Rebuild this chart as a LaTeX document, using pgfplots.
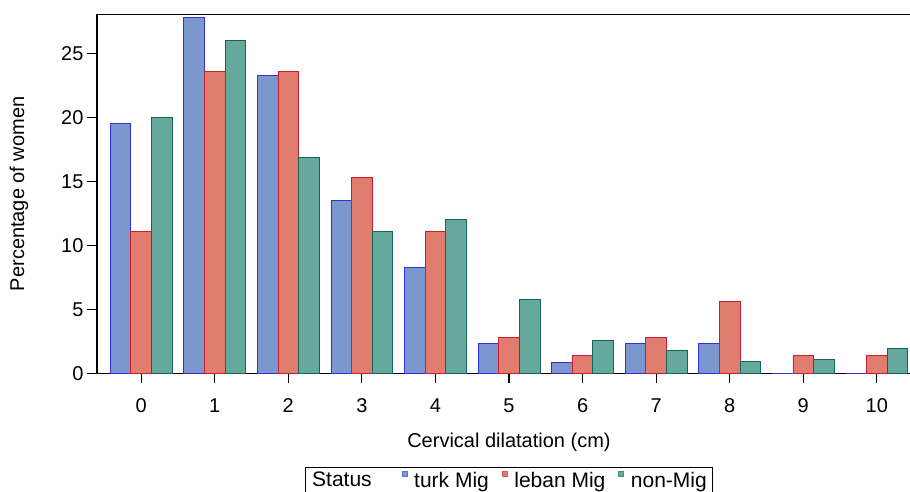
\documentclass[border=0pt]{standalone}
\usepackage{fontspec}
\setmainfont{Liberation Sans}
\usepackage{pgfplots}
\pgfplotsset{compat=1.18}
\definecolor{turkF}{RGB}{123,151,206}
\definecolor{turkE}{RGB}{50,50,220}
\definecolor{lebF}{RGB}{224,125,110}
\definecolor{lebE}{RGB}{200,30,50}
\definecolor{nonF}{RGB}{100,168,158}
\definecolor{nonE}{RGB}{20,100,90}
\begin{document}
\begin{tikzpicture}[font=\fontsize{20}{24}\selectfont]
\begin{axis}[
  at={(0pt,0pt)}, anchor=south west,
  scale only axis, width=824pt, height=359pt,
  xmin=-0.6, xmax=10.6, ymin=0, ymax=28.05,
  axis x line*=bottom, axis y line*=left,
  axis line style={line width=1.4pt, black},
  xtick={0,1,2,3,4,5,6,7,8,9,10}, ytick={0,5,10,15,20,25},
  tick align=outside, major tick length=10pt,
  every tick/.style={black, line width=1.2pt},
  /pgf/number format/assume math mode=true,
  xticklabel style={yshift=-12pt},
  xlabel={Cervical dilatation (cm)},
  ylabel={Percentage of women},
  xlabel style={at={(axis description cs:0.5,0)}, anchor=center, yshift=-69pt},
  ylabel style={at={(axis description cs:-0.0947,0.5)}, anchor=center},
  legend columns=4,
  legend style={at={(axis description cs:0.5,0)}, anchor=north, yshift=-94pt,
    draw=black, line width=1pt, inner xsep=6pt, inner ysep=2pt,
    nodes={inner sep=0pt, inner ysep=2pt},
    /tikz/every odd column/.append style={column sep=7pt},
    /tikz/every even column/.append style={column sep=13pt},
    font=\fontsize{21}{24}\selectfont},
]
\addplot[ybar, bar width=0.28, bar shift=-0.28, fill=turkF, draw=turkE, line width=0.8pt, forget plot]
 coordinates {(0,19.5)(1,27.8)(2,23.3)(3,13.5)(4,8.3)(5,2.3)(6,0.85)(7,2.3)(8,2.3)(9,0)(10,0)};
\addplot[ybar, bar width=0.28, bar shift=0, fill=lebF, draw=lebE, line width=0.8pt, forget plot]
 coordinates {(0,11.1)(1,23.6)(2,23.6)(3,15.3)(4,11.1)(5,2.8)(6,1.4)(7,2.8)(8,5.6)(9,1.4)(10,1.4)};
\addplot[ybar, bar width=0.28, bar shift=0.28, fill=nonF, draw=nonE, line width=0.8pt, forget plot]
 coordinates {(0,20.0)(1,26.0)(2,16.9)(3,11.1)(4,12.0)(5,5.8)(6,2.6)(7,1.8)(8,0.9)(9,1.1)(10,1.95)};
\addlegendimage{empty legend}
\addlegendentry{\hspace*{-6pt}Status\hspace*{17pt}}
\addlegendimage{legend image code/.code={\draw[fill=turkF, draw=turkE!40!turkF, line width=0.5pt] (0pt,4pt) rectangle (5pt,9pt);}}
\addlegendentry{turk Mig}
\addlegendimage{legend image code/.code={\draw[fill=lebF, draw=lebE!40!lebF, line width=0.5pt] (0pt,4pt) rectangle (5pt,9pt);}}
\addlegendentry{leban Mig}
\addlegendimage{legend image code/.code={\draw[fill=nonF, draw=nonE!40!nonF, line width=0.5pt] (0pt,4pt) rectangle (5pt,9pt);}}
\addlegendentry{non-Mig}
\draw[line width=1.4pt, black] (rel axis cs:0,1) -- (rel axis cs:1,1);
\end{axis}
\pgfresetboundingbox
\useasboundingbox (-97pt,-117.7pt) rectangle (813pt,373.3pt);
\end{tikzpicture}
\end{document}
